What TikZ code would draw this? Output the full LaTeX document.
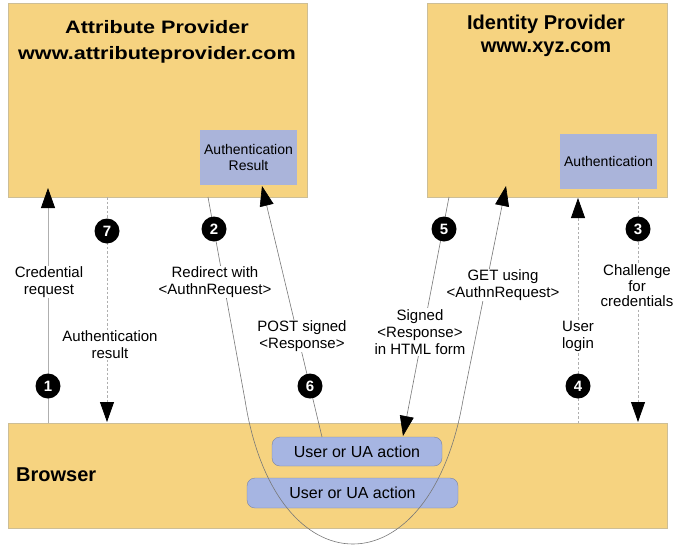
\documentclass[tikz,border=0pt]{standalone}
\usepackage{fontspec}
\setmainfont{Liberation Sans}
\newfontfamily\apfont[FakeStretch=1.2]{Liberation Sans}
\usetikzlibrary{arrows.meta}
\definecolor{boxfill}{RGB}{246,211,128}
\definecolor{boxdraw}{RGB}{205,190,150}
\definecolor{bluefill}{RGB}{170,180,218}
\definecolor{uafill}{RGB}{166,181,226}
\definecolor{uadraw}{RGB}{125,132,160}
\definecolor{lineA}{RGB}{120,120,120}
\definecolor{lineB}{RGB}{175,175,175}
\tikzset{
  bigbox/.style={draw=boxdraw, fill=boxfill, line width=0.8pt, inner sep=0pt},
  bluebox/.style={fill=bluefill, inner sep=0pt, align=center, font=\fontsize{14}{16}\selectfont},
  uabox/.style={draw=uadraw, fill=uafill, rounded corners=8pt, inner sep=0pt, font=\fontsize{16}{18}\selectfont},
  badge/.style={circle, fill=black, text=white, inner sep=0pt, minimum size=25pt, font=\bfseries\fontsize{15}{15}\selectfont},
  lbl/.style={fill=white, inner sep=1pt, align=center, font=\fontsize{15}{17}\selectfont},
  tip/.style={-{Triangle[length=20pt,width=14pt,color=black]}},
  solidA/.style={draw=lineA, line width=0.6pt},
  solidB/.style={draw=lineB, line width=0.8pt},
  dashline/.style={draw=lineB, line width=0.8pt, dash pattern=on 2.5pt off 2pt}
}
\begin{document}
\begin{tikzpicture}[x=1pt,y=-1pt]
\useasboundingbox[fill=white] (0,0) rectangle (674,546);

% main boxes
\node[bigbox, minimum width=299pt, minimum height=194pt] (ap) at (157.5,100) {};
\node[bigbox, minimum width=240pt, minimum height=194pt] (idp) at (547,100) {};
\node[bigbox, minimum width=659pt, minimum height=105pt] (br) at (337.5,475.5) {};

% titles
\node[anchor=base, inner sep=0pt, font=\apfont\bfseries\fontsize{18}{20}\selectfont] (apt1) at (157,33) {Attribute Provider};
\node[anchor=base, inner sep=0pt, font=\apfont\bfseries\fontsize{18}{20}\selectfont] (apt2) at (157,59) {www.attributeprovider.com};
\node[anchor=base, inner sep=0pt, font=\bfseries\fontsize{20}{22}\selectfont] (idpt1) at (546,29) {Identity Provider};
\node[anchor=base, inner sep=0pt, font=\bfseries\fontsize{20}{22}\selectfont] (idpt2) at (546,52) {www.xyz.com};
\node[anchor=west, inner sep=0pt, font=\bfseries\fontsize{20}{22}\selectfont] (brt) at (16,475) {Browser};

% inner boxes
\node[bluebox, minimum width=97pt, minimum height=55pt] (ar) at (248.5,157.5) {Authentication\\Result};
\node[bluebox, minimum width=97pt, minimum height=55pt] (auth) at (608.5,161.5) {Authentication};
\node[uabox, minimum width=170pt, minimum height=29pt] (ua1) at (357,451.5) {User or UA action};
\node[uabox, minimum width=211pt, minimum height=30pt] (ua2) at (352.5,493) {User or UA action};

% end points
\coordinate (c1b) at (48,423);
\coordinate (c1t) at (48,188);
\coordinate (c7t) at (107,197);
\coordinate (c7b) at (107,422);
\coordinate (c2s) at (208,197);
\coordinate (c2a) at (245,400);
\coordinate (c2p) at (275,592);
\coordinate (c2q) at (430,592);
\coordinate (c2b) at (463,400);
\coordinate (c2e) at (506,186);
\coordinate (c6s) at (322,437);
\coordinate (c6e) at (262,186);
\coordinate (c5s) at (449,197);
\coordinate (c5e) at (403,436);
\coordinate (c4b) at (578,423);
\coordinate (c4t) at (578,198);
\coordinate (c3t) at (638,197);
\coordinate (c3b) at (638,422);

% connectors
\draw[solidB, tip] (c1b) -- (c1t);
\draw[dashline, tip] (c7t) -- (c7b);
\draw[solidA, tip] (c2s) -- (c2a) .. controls (c2p) and (c2q) .. (c2b) -- (c2e);
\draw[solidA, tip] (c6s) -- (c6e);
\draw[solidA, tip] (c5s) -- (c5e);
\draw[dashline, tip] (c4b) -- (c4t);
\draw[dashline, tip] (c3t) -- (c3b);

% labels
\node[lbl] (l1) at (49,282) {Credential\\request};
\node[lbl] (l7) at (110,345) {Authentication\\result};
\node[lbl] (l2) at (215,282) {Redirect with\\<AuthnRequest>};
\node[lbl] (l6) at (302,336) {POST signed\\<Response>};
\node[lbl] (l5) at (420,332) {Signed\\<Response>\\in HTML form};
\node[lbl] (lg) at (503,285) {GET using\\<AuthnRequest>};
\node[lbl] (l4) at (578,336) {User\\login};
\node[lbl, font=\fontsize{15}{15.5}\selectfont] (l3) at (637,286) {Challenge\\for\\credentials};

% badges
\node[badge] (b1) at (48,386) {1};
\node[badge] (b7) at (107,231) {7};
\node[badge] (b2) at (214,229) {2};
\node[badge] (b6) at (310,386) {6};
\node[badge] (b5) at (444,229) {5};
\node[badge] (b4) at (578,386) {4};
\node[badge] (b3) at (638,229) {3};
\end{tikzpicture}
\end{document}
